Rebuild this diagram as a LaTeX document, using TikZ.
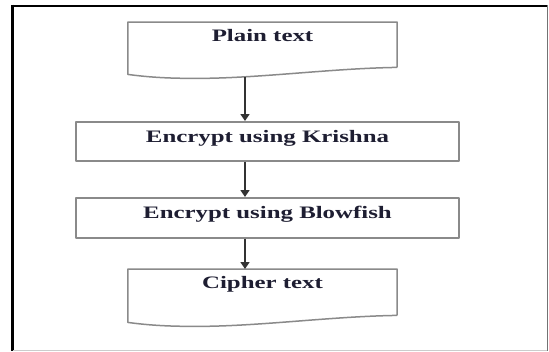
\documentclass[tikz,border=0pt]{standalone}
\usepackage{fontspec}
\setmainfont{Liberation Serif}
\newfontfamily\boxfont[FakeStretch=1.42]{Liberation Serif}
\usetikzlibrary{calc,arrows.meta}
\definecolor{txtc}{HTML}{1E1E32}
\definecolor{linec}{HTML}{8A8A8A}
\tikzset{
  boxtext/.style={inner xsep=0pt, inner ysep=0pt, anchor=north, align=center,
    font=\boxfont\fontsize{17.5}{20}\selectfont\bfseries, text=txtc},
  boxline/.style={draw=linec, line width=1.5pt, line join=round},
  procbox/.style={boxtext, boxline},
  arr/.style={draw=black!80, line width=1.6pt, -{Triangle[length=7pt,width=9pt]}},
}
\begin{document}
\begin{tikzpicture}[x=1pt,y=-1pt]
\useasboundingbox (0,0) rectangle (549,351);
\fill[white] (0,0) rectangle (549,351);
% frame
\draw[black, line width=2.5pt] (12.5,4.5) -- (12.5,351);
\draw[black, line width=2pt] (11.5,5.5) -- (548,5.5);
\draw[black!55, line width=1.5pt] (547.5,5) -- (547.5,351);
\draw[black!20, line width=1pt] (13,350.5) -- (547,350.5);
% nodes
\node[boxtext, minimum width=269pt, text height=19pt, text depth=26pt] (plain) at (262.5,22) {Plain text};
\node[procbox, minimum width=383pt, text height=21pt, text depth=18pt] (krishna) at (267.5,121) {Encrypt using Krishna};
\node[procbox, minimum width=383pt, text height=21pt, text depth=19pt] (blow) at (267.5,197) {Encrypt using Blowfish};
\node[boxtext, minimum width=269pt, text height=19pt, text depth=27pt] (cipher) at (262.5,269) {Cipher text};
% document outlines
\draw[boxline] (plain.south east) -- (plain.north east) -- (plain.north west) -- ($(plain.south west)+(0,7)$)
  .. controls +(22,3) and +(-26,0) .. ($(plain.south west)+(68,11)$)
  .. controls +(64,0) and +(-67,1) .. (plain.south east);
\draw[boxline] (cipher.south east) -- (cipher.north east) -- (cipher.north west) -- ($(cipher.south west)+(0,7)$)
  .. controls +(22,3) and +(-26,0) .. ($(cipher.south west)+(68,11)$)
  .. controls +(64,0) and +(-67,1) .. (cipher.south east);
% connectors
\coordinate (w1) at (245,77);
\draw[arr] (w1) -- (w1 |- krishna.north);
\draw[arr] (krishna.south -| w1) -- (blow.north -| w1);
\draw[arr] (blow.south -| w1) -- (cipher.north -| w1);
\end{tikzpicture}
\end{document}
